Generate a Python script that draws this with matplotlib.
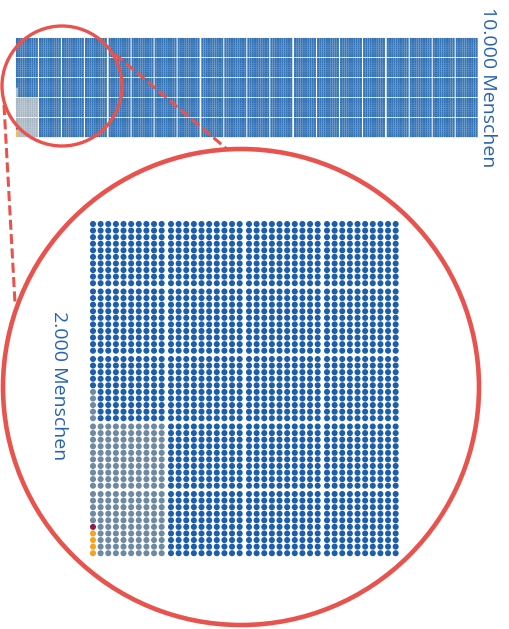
import matplotlib

matplotlib.use("Agg")
import matplotlib.pyplot as plt
import numpy as np
from matplotlib.patches import Circle

# Daten: 10.000 Menschen in 5 Blöcken zu je 2.000
n_blocks = 5
block_size = 2000
grid_cols, grid_rows = 40, 50  # 40 x 50 = 2000

# Gruppen im ersten Block (Rest ist blau)
cat_names = ["orange", "lila", "grau", "blau"]
cat_counts = [4, 1, 200, block_size - 205]
cat_colors = ["#f4a41e", "#8c1d50", "#6e8aa3", "#1c5eab"]
# im kleinen Streifen wirken die Farben heller
strip_colors = ["#f2c23c", "#a04070", "#a8b6c4", "#3472b4"]

texts = ["10.000 Menschen", "2.000 Menschen"]
red = "#e9534d"
text_blue = "#2563b0"


def fill_order():
    """Reihenfolge der Zellen: links unten spaltenweise nach oben."""
    order = [(c, r) for c in range(10) for r in range(grid_rows - 1, 29, -1)]
    order += [(0, r) for r in range(29, -1, -1)]
    seen = set(order)
    for r in range(grid_rows):
        for c in range(grid_cols):
            if (c, r) not in seen:
                order.append((c, r))
    return order


def block_colors(counts, palette):
    cols = []
    for n, col in zip(counts, palette):
        cols += [col] * n
    return cols


def positions(x0, y0, dx, dy, gap):
    cells = fill_order()
    xs = np.array([x0 + c * dx + (c // 10) * gap for c, r in cells])
    ys = np.array([y0 + r * dy + (r // 10) * gap for c, r in cells])
    return xs, ys


fig = plt.figure(figsize=(5.1, 6.29), dpi=100)
ax = fig.add_axes([0, 0, 1, 1])
ax.set_xlim(0, 510)
ax.set_ylim(629, 0)
ax.axis("off")

# oberer Streifen: 5 Blöcke
for b in range(n_blocks):
    if b == 0:
        colors = block_colors(cat_counts, strip_colors)
    else:
        colors = [strip_colors[-1]] * block_size
    xs, ys = positions(17 + b * 92.7, 39, 2.2, 1.9, 1.0)
    sc = ax.scatter(xs, ys, s=2.3, marker="s", c=colors, linewidths=0)
    sc.set_snap(False)

# Lupe: 2.000 Menschen
xs, ys = positions(93, 224, 7.63, 6.58, 1.7)
ax.scatter(xs, ys, s=19, marker="o", c=block_colors(cat_counts, cat_colors),
           linewidths=0)

# Kreise und gestrichelte Verbindungslinien
ax.add_patch(Circle((62, 86), 60, fill=False, ec=red, lw=2.4))
ax.add_patch(Circle((241, 387), 238, fill=False, ec=red, lw=3.3))
ax.plot([115, 228], [54, 150], color=red, lw=2.2, ls=(0, (3.3, 1.4)))
ax.plot([4, 15], [105, 303], color=red, lw=2.2, ls=(0, (3.3, 1.4)))

ax.text(488, 87, texts[0], rotation=270, ha="center", va="center",
        fontsize=14, color=text_blue, family="Open Sans")
ax.text(59, 386, texts[1], rotation=270, ha="center", va="center",
        fontsize=14, color=text_blue, family="Open Sans")

plt.savefig("out.png", dpi=100)
